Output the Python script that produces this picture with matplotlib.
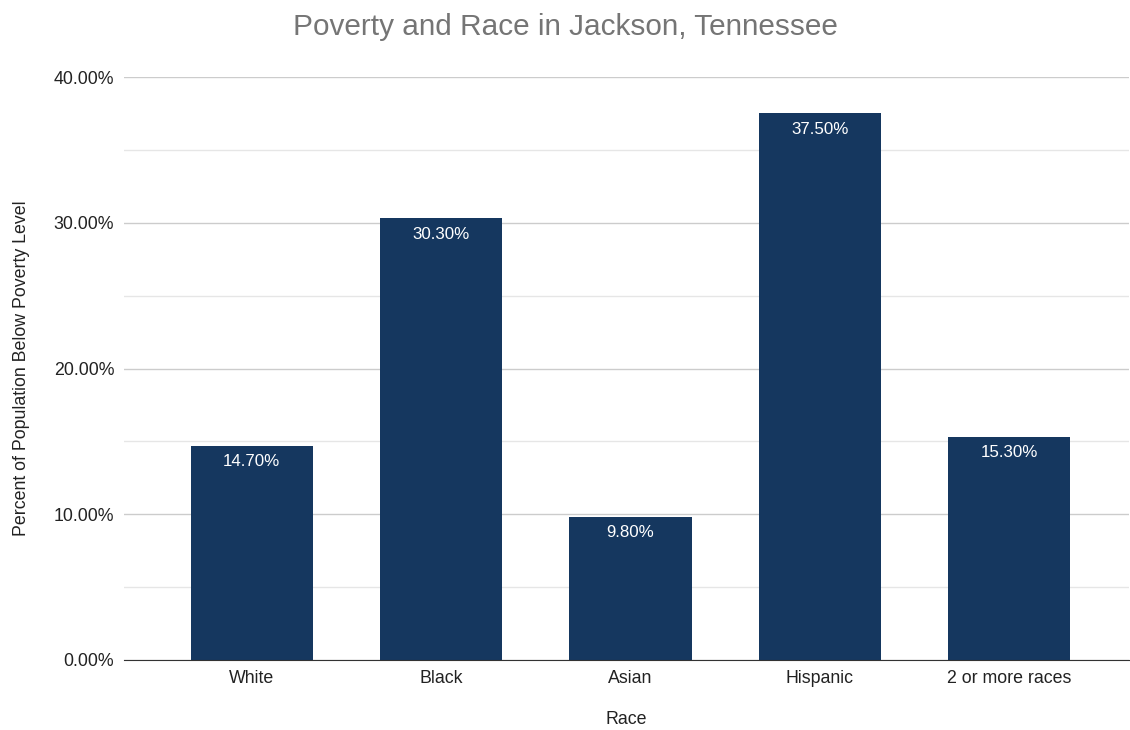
import numpy as np
import matplotlib.pyplot as plt
from matplotlib.ticker import MultipleLocator, FuncFormatter

races = ['White', 'Black', 'Asian', 'Hispanic', '2 or more races']
poverty_pct = [14.7, 30.3, 9.8, 37.5, 15.3]

plt.rcParams['font.family'] = ['Liberation Sans', 'DejaVu Sans']

fig = plt.figure(figsize=(11.3, 7.3), dpi=100)
ax = fig.add_axes([0.1097, 0.0959, 0.889, 0.7986])

x = np.arange(len(races))
ax.bar(x, poverty_pct, width=0.645, color='#15375f', zorder=3)
for xi, v in zip(x, poverty_pct):
    ax.annotate(f'{v:.2f}%', (xi, v), xytext=(0, -6), textcoords='offset points',
                ha='center', va='top', color='white', fontsize=12.2, zorder=4)

ax.set_xlim(-0.675, 4.63)
ax.set_ylim(0, 40)
ax.yaxis.set_major_locator(MultipleLocator(10))
ax.yaxis.set_minor_locator(MultipleLocator(5))
ax.yaxis.set_major_formatter(FuncFormatter(lambda v, p: f'{v:.2f}%'))
ax.grid(axis='y', which='major', color='#cccccc', linewidth=1, zorder=0)
ax.grid(axis='y', which='minor', color='#e6e6e6', linewidth=1, zorder=0)
ax.tick_params(axis='both', which='both', length=0, labelsize=12.8, colors='#222222')
ax.tick_params(axis='y', pad=7)
ax.tick_params(axis='x', pad=7.5)
ax.set_xticks(x)
ax.set_xticklabels(races)
for s in ['top', 'right', 'left']:
    ax.spines[s].set_visible(False)
ax.spines['bottom'].set_color('#333333')
ax.spines['bottom'].set_zorder(5)

ax.set_xlabel('Race', fontsize=12.8, color='#222222', labelpad=17)
ax.set_ylabel('Percent of Population Below Poverty Level', fontsize=12.8, color='#222222', labelpad=17)
fig.text(0.5, 0.963, 'Poverty and Race in Jackson, Tennessee', ha='center', va='center',
         fontsize=21.4, color='#757575')

fig.savefig('out.png', dpi=100)
plt.close(fig)
